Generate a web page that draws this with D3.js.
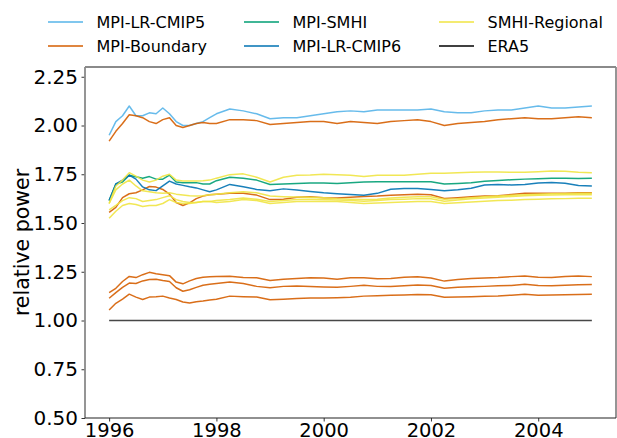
<!DOCTYPE html>
<html>
<head>
<meta charset="utf-8">
<script src="https://cdn.jsdelivr.net/npm/d3@7"></script>
<style>
  html, body { margin: 0; padding: 0; background: #fff; }
  svg { display: block; font-family: "DejaVu Sans", sans-serif; }
</style>
</head>
<body>
<svg id="chart" width="617" height="438"></svg>
<script>
// ---- data (decimal years) ----
const dates = [1996, 1996.125, 1996.25, 1996.375, 1996.5, 1996.625, 1996.75, 1996.875,
  1997, 1997.125, 1997.25, 1997.375, 1997.5, 1997.625, 1997.75, 1997.875, 1998,
  1998.25, 1998.5, 1998.75, 1999, 1999.25, 1999.5, 1999.75, 2000, 2000.25, 2000.5, 2000.75,
  2001, 2001.25, 2001.5, 2001.75, 2002, 2002.25, 2002.5, 2002.75, 2003, 2003.25, 2003.5, 2003.75,
  2004, 2004.25, 2004.5, 2004.75, 2005];

const mpiLrCmip5 = [1.95, 2.02, 2.05, 2.10, 2.05, 2.05, 2.065, 2.06, 2.09, 2.06, 2.02, 2.00, 2.00, 2.01, 2.02, 2.04, 2.06,
  2.085, 2.075, 2.06, 2.035, 2.04, 2.04, 2.05, 2.06, 2.07, 2.075, 2.07, 2.08, 2.08, 2.08, 2.08, 2.085, 2.07, 2.066, 2.065,
  2.075, 2.08, 2.08, 2.09, 2.10, 2.09, 2.09, 2.095, 2.10];

const mpiBoundary1 = [1.92, 1.97, 2.01, 2.055, 2.05, 2.04, 2.02, 2.01, 2.03, 2.04, 2.00, 1.99, 2.00, 2.01, 2.015, 2.01, 2.01,
  2.03, 2.03, 2.025, 2.005, 2.01, 2.015, 2.02, 2.02, 2.01, 2.02, 2.015, 2.01, 2.02, 2.025, 2.03, 2.02, 2.00, 2.01, 2.015,
  2.02, 2.03, 2.035, 2.04, 2.035, 2.035, 2.04, 2.045, 2.04];

const mpiBoundary2 = [1.555, 1.58, 1.63, 1.65, 1.655, 1.67, 1.687, 1.684, 1.672, 1.648, 1.605, 1.59, 1.603, 1.625, 1.638, 1.645, 1.648,
  1.652, 1.652, 1.643, 1.62, 1.622, 1.632, 1.635, 1.63, 1.628, 1.632, 1.636, 1.638, 1.642, 1.645, 1.647, 1.645, 1.626, 1.63, 1.635,
  1.638, 1.64, 1.646, 1.652, 1.652, 1.652, 1.653, 1.655, 1.655];

const mpiBoundary3 = [1.143, 1.165, 1.20, 1.226, 1.22, 1.235, 1.247, 1.24, 1.235, 1.23, 1.197, 1.188, 1.203, 1.215, 1.222, 1.224, 1.226,
  1.227, 1.221, 1.219, 1.205, 1.211, 1.215, 1.219, 1.218, 1.212, 1.219, 1.219, 1.214, 1.216, 1.222, 1.224, 1.218, 1.202, 1.21, 1.215,
  1.218, 1.22, 1.225, 1.228, 1.222, 1.22, 1.226, 1.228, 1.225];

const mpiBoundary4 = [1.114, 1.143, 1.17, 1.192, 1.19, 1.203, 1.21, 1.212, 1.205, 1.20, 1.168, 1.15, 1.158, 1.17, 1.181, 1.186, 1.19,
  1.197, 1.19, 1.175, 1.168, 1.175, 1.177, 1.174, 1.172, 1.17, 1.175, 1.181, 1.175, 1.174, 1.178, 1.182, 1.18, 1.165, 1.17, 1.173,
  1.175, 1.178, 1.18, 1.186, 1.18, 1.178, 1.181, 1.183, 1.185];

const mpiBoundary5 = [1.054, 1.088, 1.11, 1.135, 1.12, 1.108, 1.12, 1.122, 1.125, 1.115, 1.108, 1.095, 1.09, 1.096, 1.10, 1.105, 1.109,
  1.125, 1.122, 1.12, 1.106, 1.109, 1.113, 1.115, 1.116, 1.117, 1.119, 1.125, 1.127, 1.129, 1.131, 1.133, 1.132, 1.119, 1.12, 1.122,
  1.124, 1.126, 1.13, 1.134, 1.13, 1.131, 1.132, 1.133, 1.134];

const mpiSmhi = [1.615, 1.70, 1.71, 1.745, 1.737, 1.73, 1.738, 1.725, 1.725, 1.745, 1.71, 1.707, 1.707, 1.707, 1.70, 1.70, 1.717,
  1.735, 1.73, 1.72, 1.697, 1.70, 1.703, 1.705, 1.705, 1.703, 1.706, 1.71, 1.712, 1.712, 1.712, 1.712, 1.712, 1.70, 1.703, 1.707,
  1.714, 1.718, 1.722, 1.725, 1.727, 1.729, 1.729, 1.728, 1.729];

const mpiLrCmip6 = [1.615, 1.70, 1.72, 1.746, 1.725, 1.685, 1.67, 1.666, 1.69, 1.715, 1.70, 1.693, 1.686, 1.68, 1.67, 1.66, 1.67,
  1.698, 1.686, 1.672, 1.665, 1.675, 1.669, 1.662, 1.655, 1.65, 1.646, 1.642, 1.652, 1.673, 1.677, 1.677, 1.672, 1.666, 1.67, 1.678,
  1.695, 1.698, 1.695, 1.698, 1.705, 1.708, 1.704, 1.692, 1.69];

const smhiRegional1 = [1.60, 1.69, 1.72, 1.758, 1.74, 1.72, 1.71, 1.72, 1.74, 1.75, 1.72, 1.715, 1.715, 1.715, 1.717, 1.72, 1.73,
  1.748, 1.752, 1.735, 1.71, 1.735, 1.745, 1.746, 1.75, 1.747, 1.745, 1.738, 1.745, 1.745, 1.745, 1.75, 1.755, 1.755, 1.758, 1.76,
  1.762, 1.762, 1.76, 1.76, 1.763, 1.767, 1.765, 1.76, 1.758];

const smhiRegional2 = [1.60, 1.67, 1.70, 1.72, 1.69, 1.665, 1.66, 1.655, 1.652, 1.655, 1.648, 1.644, 1.64, 1.638, 1.64, 1.645, 1.648,
  1.655, 1.66, 1.655, 1.638, 1.635, 1.633, 1.632, 1.63, 1.625, 1.622, 1.62, 1.622, 1.628, 1.632, 1.635, 1.635, 1.622, 1.625, 1.63,
  1.634, 1.638, 1.642, 1.645, 1.648, 1.65, 1.651, 1.652, 1.652];

const smhiRegional3 = [1.567, 1.59, 1.615, 1.63, 1.625, 1.61, 1.615, 1.62, 1.63, 1.64, 1.62, 1.61, 1.605, 1.605, 1.61, 1.61, 1.615,
  1.62, 1.628, 1.622, 1.61, 1.615, 1.62, 1.622, 1.62, 1.618, 1.615, 1.612, 1.615, 1.62, 1.622, 1.625, 1.624, 1.612, 1.618, 1.624,
  1.628, 1.632, 1.636, 1.64, 1.642, 1.643, 1.645, 1.645, 1.645];

const smhiRegional4 = [1.524, 1.56, 1.59, 1.60, 1.595, 1.585, 1.59, 1.59, 1.60, 1.62, 1.605, 1.60, 1.60, 1.605, 1.61, 1.61, 1.605,
  1.61, 1.62, 1.615, 1.60, 1.605, 1.61, 1.61, 1.612, 1.61, 1.605, 1.60, 1.603, 1.605, 1.608, 1.61, 1.61, 1.60, 1.604, 1.608,
  1.612, 1.615, 1.617, 1.62, 1.622, 1.624, 1.625, 1.627, 1.627];

const era5 = dates.map(() => 1.0);

const yTicks = [0.50, 0.75, 1.00, 1.25, 1.50, 1.75, 2.00, 2.25];
const xTicks = [1996, 1998, 2000, 2002, 2004];

const legendNames = ["MPI-LR-CMIP5", "MPI-Boundary", "MPI-SMHI", "MPI-LR-CMIP6", "SMHI-Regional", "ERA5"];
const legendColors = ["#56B4E9", "#D55E00", "#009E73", "#0072B2", "#F0E442", "#000000"];

// ---- build ----
const series = [
  { v: mpiLrCmip5, c: legendColors[0] },
  { v: mpiBoundary1, c: legendColors[1] },
  { v: mpiBoundary2, c: legendColors[1] },
  { v: mpiBoundary3, c: legendColors[1] },
  { v: mpiBoundary4, c: legendColors[1] },
  { v: mpiBoundary5, c: legendColors[1] },
  { v: mpiSmhi, c: legendColors[2] },
  { v: mpiLrCmip6, c: legendColors[3] },
  { v: smhiRegional1, c: legendColors[4] },
  { v: smhiRegional2, c: legendColors[4] },
  { v: smhiRegional3, c: legendColors[4] },
  { v: smhiRegional4, c: legendColors[4] },
  { v: era5, c: "#333333" }
];

const svg = d3.select("#chart");
const L = 85, R = 616, T = 67, B = 418;
const x = d3.scaleLinear().domain([1996 - 0.45, 2005 + 0.45]).range([L, R]);
const y = d3.scaleLinear().domain([0.5, 2.3]).range([B, T]);

const line = d3.line().x((d, i) => x(dates[i])).y(d => y(d));

const plot = svg.append("g");
series.forEach(s => {
  plot.append("path")
    .datum(s.v)
    .attr("d", line)
    .attr("fill", "none")
    .attr("stroke", s.c)
    .attr("stroke-width", 1.5)
    .attr("stroke-opacity", 0.9)
    .attr("stroke-linejoin", "round");
});

// axes
const yAxis = svg.append("g")
  .attr("transform", `translate(${L},0)`)
  .call(d3.axisLeft(y).tickValues(yTicks).tickFormat(d3.format(".2f")).tickSize(3.5).tickPadding(3.5));
const xAxis = svg.append("g")
  .attr("transform", `translate(0,${B})`)
  .call(d3.axisBottom(x).tickValues(xTicks).tickFormat(d3.format("d")).tickSize(3.5).tickPadding(1.5));

[yAxis, xAxis].forEach(a => {
  a.select(".domain").remove();
  a.selectAll("text").attr("font-size", 20).attr("fill", "#000").attr("font-family", "DejaVu Sans");
  a.selectAll("line").attr("stroke", "#000").attr("stroke-width", 0.8);
});
xAxis.selectAll("text").attr("font-size", 19.5);

// frame
svg.append("line").attr("x1", L).attr("x2", L).attr("y1", T).attr("y2", B)
  .attr("stroke", "#8a8a8a").attr("stroke-width", 1.8);
svg.append("line").attr("x1", R).attr("x2", R).attr("y1", T).attr("y2", B)
  .attr("stroke", "#8a8a8a").attr("stroke-width", 1.8);
svg.append("line").attr("x1", L).attr("x2", R).attr("y1", T).attr("y2", T)
  .attr("stroke", "#8a8a8a").attr("stroke-width", 1.8);
svg.append("line").attr("x1", L).attr("x2", R).attr("y1", B).attr("y2", B)
  .attr("stroke", "#222").attr("stroke-width", 1.2);

// y label
svg.append("text")
  .attr("transform", `translate(29,${(T + B) / 2}) rotate(-90)`)
  .attr("text-anchor", "middle")
  .attr("font-size", 20.5)
  .attr("fill", "#000")
  .text("relative power");

// legend (3 columns, 2 rows, column-major)
const colX = [48, 244, 439];
const rowY = [22, 46];
legendNames.forEach((name, i) => {
  const col = Math.floor(i / 2), row = i % 2;
  const g = svg.append("g");
  g.append("line")
    .attr("x1", colX[col]).attr("x2", colX[col] + 35)
    .attr("y1", rowY[row]).attr("y2", rowY[row])
    .attr("stroke", legendColors[i]).attr("stroke-width", 1.6);
  g.append("text")
    .attr("x", colX[col] + 48.5).attr("y", rowY[row])
    .attr("dy", "0.36em")
    .attr("font-size", 16)
    .attr("fill", "#000")
    .text(name);
});
</script>
</body>
</html>
